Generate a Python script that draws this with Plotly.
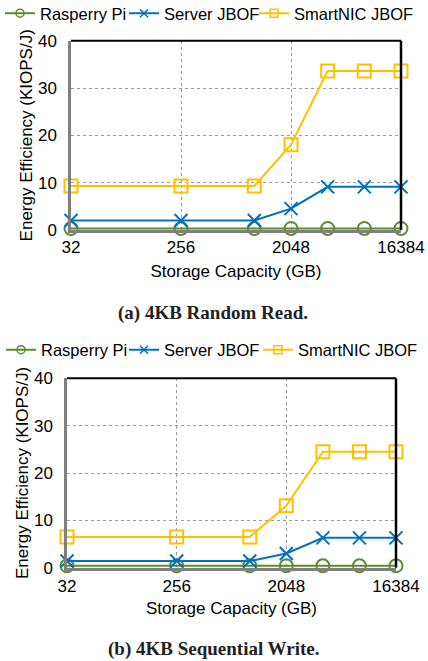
import math
import plotly.graph_objects as go

# ---------------- data ----------------
capacity_gb = [32, 256, 1024, 2048, 4096, 8192, 16384]
tick_vals = [32, 256, 2048, 16384]
tick_text = ["32", "256", "2048", "16384"]
series_names = ["Rasperry Pi", "Server JBOF", "SmartNIC JBOF"]

# (a) 4KB Random Read
rr_rpi = [0.3, 0.3, 0.3, 0.3, 0.3, 0.3, 0.3]
rr_server = [2.0, 2.0, 2.0, 4.5, 9.1, 9.1, 9.1]
rr_smartnic = [9.3, 9.3, 9.3, 18.0, 33.6, 33.6, 33.6]

# (b) 4KB Sequential Write
sw_rpi = [0.4, 0.4, 0.4, 0.4, 0.4, 0.4, 0.4]
sw_server = [1.4, 1.4, 1.4, 3.0, 6.3, 6.3, 6.3]
sw_smartnic = [6.5, 6.5, 6.5, 13.1, 24.5, 24.5, 24.5]

captions = ["(a) 4KB Random Read.", "(b) 4KB Sequential Write."]
x_title = "Storage Capacity (GB)"
y_title = "Energy Efficiency (KIOPS/J)"

# ---------------- style ----------------
W, H = 428, 661
FONT = "Liberation Sans, Arial, sans-serif"
colors = ["#5B8C32", "#0070C0", "#FFC000"]
symbols = ["circle-open", "x-thin-open", "square-open"]

fig = go.Figure()

panels = [
    dict(xa="x", ya="y", vals=[rr_rpi, rr_server, rr_smartnic],
         legends=["legend", "legend2", "legend3"]),
    dict(xa="x2", ya="y2", vals=[sw_rpi, sw_server, sw_smartnic],
         legends=["legend4", "legend5", "legend6"]),
]

for p in panels:
    for i, name in enumerate(series_names):
        fig.add_trace(go.Scatter(
            x=capacity_gb, y=p["vals"][i], xaxis=p["xa"], yaxis=p["ya"],
            mode="lines+markers", name=name, showlegend=False,
            cliponaxis=False,
            line=dict(color=colors[i], width=2),
            marker=dict(symbol=symbols[i], size=13, color=colors[i],
                        line=dict(color=colors[i], width=2)),
        ))
    # legend entries (small symbols like the reference)
    for i, name in enumerate(series_names):
        fig.add_trace(go.Scatter(
            x=[None], y=[None], xaxis=p["xa"], yaxis=p["ya"],
            mode="lines+markers", name=name, showlegend=True,
            legend=p["legends"][i],
            line=dict(color=colors[i], width=2),
            marker=dict(symbol=symbols[i], size=8, color=colors[i],
                        line=dict(color=colors[i], width=1.5)),
        ))

x_lo = math.log10(min(capacity_gb)) - 1e-4
x_hi = math.log10(max(capacity_gb)) + 1e-4

def xaxis_cfg(domain, anchor, label_off, title_off):
    return dict(
        domain=domain, anchor=anchor, type="log",
        range=[x_lo, x_hi], automargin=False,
        tickvals=tick_vals, ticktext=tick_text,
        showgrid=True, gridcolor="#9a9a9a", gridwidth=1, griddash="dot",
        showline=True, linecolor="#7f7f7f", linewidth=2.5,
        ticks="", ticklabelstandoff=label_off,
        tickfont=dict(family=FONT, size=17, color="black"),
        title=dict(text=x_title, font=dict(family=FONT, size=17, color="black"),
                   standoff=title_off),
        zeroline=False, fixedrange=True,
    )

def yaxis_cfg(domain, anchor):
    return dict(
        domain=domain, anchor=anchor, range=[0, 40], dtick=10,
        automargin=False,
        showgrid=True, gridcolor="#9a9a9a", gridwidth=1, griddash="dot",
        showline=True, linecolor="#7f7f7f", linewidth=2.5,
        ticks="", ticklabelstandoff=8,
        tickfont=dict(family=FONT, size=17, color="black"),
        title=dict(text=y_title, font=dict(family=FONT, size=17, color="black"),
                   standoff=1),
        zeroline=False, fixedrange=True,
    )

legend_common = dict(
    orientation="h", xanchor="left", yanchor="middle",
    bgcolor="rgba(0,0,0,0)", borderwidth=0,
    font=dict(family=FONT, size=16.5, color="black"),
    itemwidth=30, tracegroupgap=0,
)

top_leg_text_x = [40, 164, 294]
bot_leg_text_x = [41, 164, 298]
top_leg_y = 1 - 13.5 / H
bot_leg_y = 1 - 350 / H

layout = dict(
    width=W, height=H, margin=dict(l=0, r=0, t=0, b=0, autoexpand=False),
    paper_bgcolor="white", plot_bgcolor="white",
    xaxis=xaxis_cfg([71 / W, 401 / W], "y", 0, 10),
    yaxis=yaxis_cfg([1 - 229.9 / H, 1 - 40.7 / H], "x"),
    xaxis2=xaxis_cfg([67 / W, 396 / W], "y2", 1, 8),
    yaxis2=yaxis_cfg([1 - 567.7 / H, 1 - 378.3 / H], "x2"),
)
for k, name in enumerate(["legend", "legend2", "legend3"]):
    layout[name] = dict(legend_common, x=(top_leg_text_x[k] - 40) / W, y=top_leg_y)
for k, name in enumerate(["legend4", "legend5", "legend6"]):
    layout[name] = dict(legend_common, x=(bot_leg_text_x[k] - 40) / W, y=bot_leg_y)

fig.update_layout(**layout)

# top / right black frame lines
for xa, ya in [("x", "y"), ("x2", "y2")]:
    fig.add_shape(type="line", xref=f"{xa} domain", yref=f"{ya} domain",
                  x0=0, x1=1, y0=1, y1=1, line=dict(color="black", width=2))
    fig.add_shape(type="line", xref=f"{xa} domain", yref=f"{ya} domain",
                  x0=1, x1=1, y0=0, y1=1, line=dict(color="black", width=2.5))

cap_y = [1 - 312.7 / H, 1 - 649 / H]
for c, yy in zip(captions, cap_y):
    fig.add_annotation(text=f"<b>{c}</b>", xref="paper", yref="paper",
                       x=213 / W, y=yy, xanchor="center", yanchor="middle",
                       showarrow=False,
                       font=dict(family="Liberation Serif, serif", size=19, color="#222"))

fig.write_html("out.html")
